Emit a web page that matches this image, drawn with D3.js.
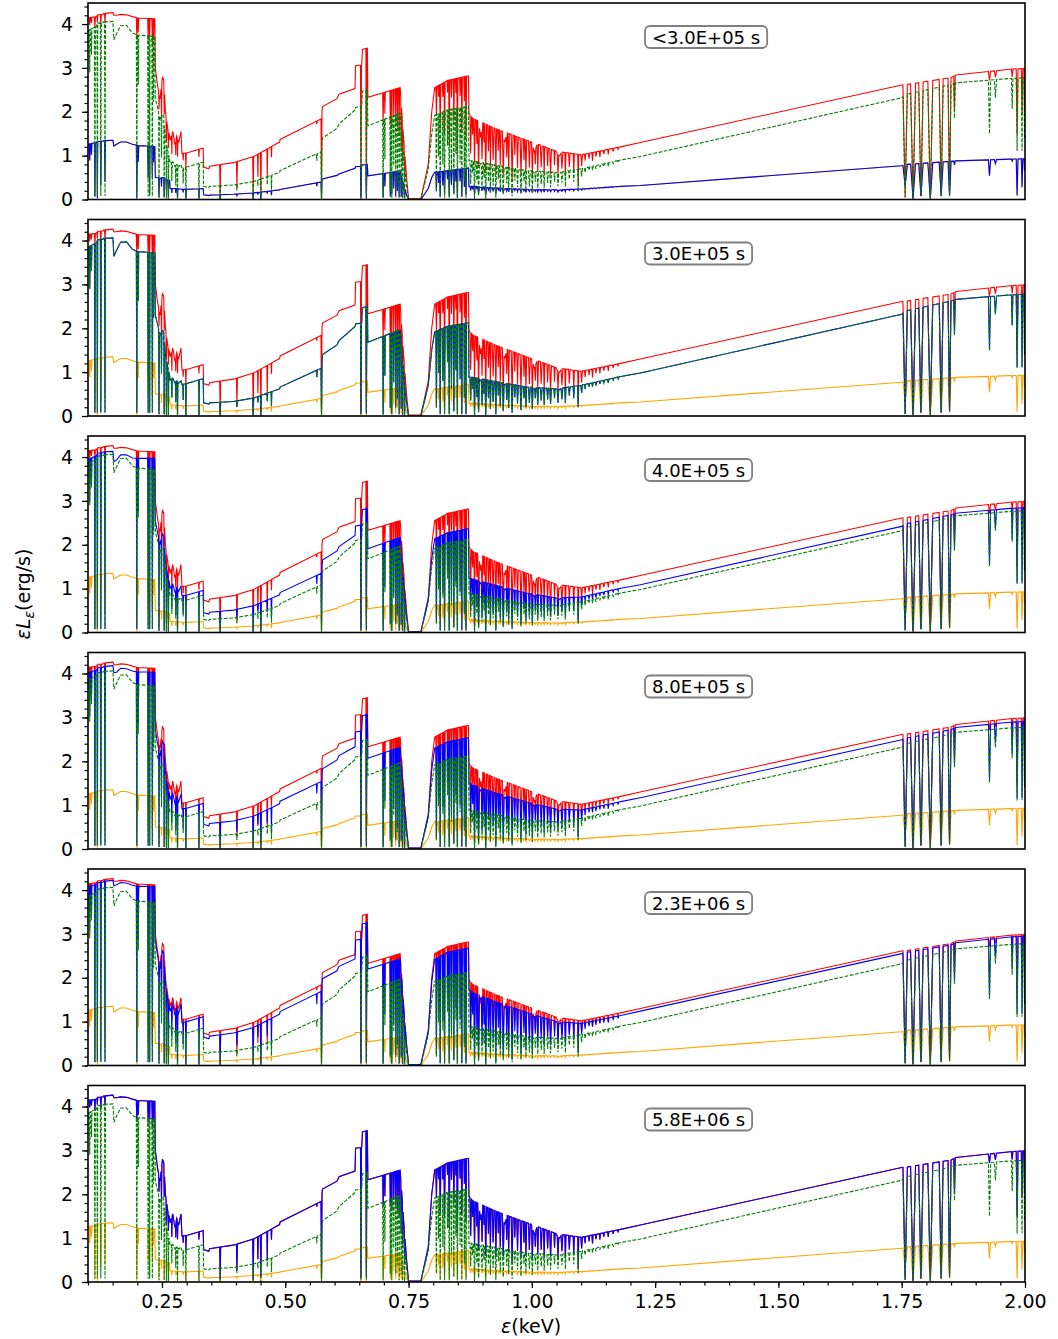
<!DOCTYPE html>
<html>
<head>
<meta charset="utf-8">
<script src="https://cdn.jsdelivr.net/npm/d3@7"></script>
<style>
body { margin: 0; background: #fff; }
text { font-family: "DejaVu Sans", sans-serif; }
</style>
</head>
<body>
<div id="chart"></div>
<script>
// continuum knots (keV) and the level of each spectrum at them
var knotE = [0.100, 0.1175, 0.1185, 0.1305, 0.1315, 0.1505, 0.1525, 0.158, 0.166, 0.178, 0.190, 0.200, 0.2355,
    0.2365, 0.241, 0.246, 0.251, 0.254, 0.257, 0.262, 0.2655, 0.2665, 0.272, 0.276, 0.280, 0.284, 0.2885, 0.2905,
    0.300, 0.3335, 0.3345, 0.345, 0.3465, 0.395, 0.436, 0.4885, 0.4895, 0.573, 0.5755, 0.605, 0.609, 0.6415,
    0.6425, 0.655, 0.6565, 0.6665, 0.6675, 0.733, 0.740, 0.746, 0.750, 0.775, 0.790, 0.797, 0.803, 0.830,
    0.8715, 0.8725, 0.880, 0.930, 0.990, 1.050, 1.100, 1.180, 1.220, 1.750, 1.760, 1.850, 1.860, 1.970, 2.000];
var redC = [4.14, 4.17, 4.21, 4.22, 4.24, 4.26, 4.20, 4.20, 4.22, 4.21, 4.17, 4.14, 4.12,
    3.00, 2.60, 2.30, 2.80, 2.70, 2.00, 1.60, 1.45, 1.35, 1.55, 1.25, 1.45, 1.30, 1.55, 1.05,
    1.06, 1.17, 0.74, 0.70, 0.76, 0.84, 0.98, 1.31, 1.37, 1.84, 2.12, 2.30, 2.40, 2.53,
    3.05, 3.07, 3.42, 3.45, 2.33, 2.55, 1.40, 0.50, 0.02, 0.02, 0.80, 2.00, 2.55, 2.72,
    2.82, 1.95, 1.85, 1.60, 1.35, 1.10, 1.02, 1.20, 1.30, 2.61, 2.62, 2.78, 2.84, 2.97, 2.99];
var greenC = [3.85, 3.95, 4.02, 4.03, 4.05, 4.06, 3.64, 3.78, 3.96, 3.97, 3.80, 3.75, 3.72,
    2.30, 2.10, 1.85, 1.95, 1.90, 1.40, 1.10, 0.92, 0.82, 0.86, 0.76, 0.80, 0.75, 0.80, 0.72,
    0.74, 0.85, 0.30, 0.27, 0.30, 0.33, 0.41, 0.62, 0.66, 1.09, 1.40, 1.62, 1.72, 2.04,
    2.10, 2.12, 2.47, 2.50, 1.68, 1.97, 1.00, 0.30, 0.01, 0.01, 0.70, 1.50, 1.92, 2.05,
    2.13, 0.88, 0.88, 0.78, 0.66, 0.62, 0.70, 0.90, 0.98, 2.32, 2.40, 2.62, 2.66, 2.76, 2.78];
var lowC = [1.26, 1.30, 1.32, 1.33, 1.34, 1.35, 1.22, 1.26, 1.31, 1.31, 1.26, 1.23, 1.21,
    0.50, 0.50, 0.48, 0.50, 0.50, 0.46, 0.44, 0.44, 0.25, 0.25, 0.25, 0.25, 0.24, 0.24, 0.23,
    0.23, 0.25, 0.11, 0.09, 0.10, 0.12, 0.15, 0.22, 0.23, 0.40, 0.47, 0.55, 0.58, 0.71,
    0.75, 0.76, 0.79, 0.80, 0.54, 0.65, 0.35, 0.10, 0.00, 0.00, 0.25, 0.50, 0.62, 0.66,
    0.72, 0.30, 0.30, 0.26, 0.23, 0.22, 0.24, 0.30, 0.32, 0.77, 0.80, 0.87, 0.88, 0.92, 0.93];
var blue3C = [3.95, 4.03, 4.09, 4.10, 4.12, 4.13, 3.90, 3.93, 4.05, 4.05, 3.98, 3.97, 3.97,
    2.55, 2.28, 2.01, 2.25, 2.18, 1.61, 1.28, 1.11, 1.01, 1.10, 0.93, 1.03, 0.94, 1.06, 0.84,
    0.85, 0.96, 0.45, 0.42, 0.46, 0.51, 0.61, 0.86, 0.91, 1.35, 1.65, 1.86, 1.96, 2.21,
    2.43, 2.45, 2.80, 2.83, 1.91, 2.17, 1.14, 0.37, 0.01, 0.01, 0.74, 1.68, 2.14, 2.28,
    2.37, 1.25, 1.22, 1.07, 0.90, 0.79, 0.81, 1.01, 1.09, 2.42, 2.48, 2.68, 2.72, 2.83, 2.85];
var blue4C = [4.02, 4.08, 4.13, 4.14, 4.16, 4.18, 4.02, 4.03, 4.12, 4.11, 4.06, 4.04, 4.03,
    2.72, 2.40, 2.12, 2.46, 2.38, 1.76, 1.40, 1.24, 1.14, 1.27, 1.05, 1.19, 1.08, 1.25, 0.92,
    0.93, 1.04, 0.56, 0.53, 0.58, 0.64, 0.75, 1.03, 1.09, 1.54, 1.83, 2.03, 2.13, 2.33,
    2.67, 2.69, 3.04, 3.07, 2.07, 2.32, 1.24, 0.42, 0.02, 0.02, 0.76, 1.80, 2.30, 2.45,
    2.54, 1.52, 1.46, 1.27, 1.07, 0.91, 0.89, 1.08, 1.17, 2.49, 2.53, 2.72, 2.77, 2.89, 2.91];
var blue5C = [4.08, 4.13, 4.17, 4.18, 4.20, 4.22, 4.10, 4.12, 4.17, 4.16, 4.11, 4.09, 4.08,
    2.86, 2.50, 2.21, 2.63, 2.54, 1.88, 1.50, 1.34, 1.24, 1.41, 1.15, 1.32, 1.19, 1.40, 0.98,
    1.00, 1.11, 0.65, 0.61, 0.67, 0.74, 0.87, 1.17, 1.23, 1.69, 1.98, 2.16, 2.26, 2.43,
    2.86, 2.88, 3.23, 3.26, 2.20, 2.43, 1.32, 0.46, 0.02, 0.02, 0.78, 1.90, 2.42, 2.59,
    2.68, 1.74, 1.66, 1.44, 1.21, 1.00, 0.96, 1.14, 1.24, 2.55, 2.58, 2.75, 2.80, 2.93, 2.95];

// absorption lines: energy, half width, depth in red, green, low spectrum
var lines = [
    [0.1035, 0.0012, 0.04, 0.25, 0.30], [0.1070, 0.0010, 0.03, 0.15, 0.20], [0.1140, 0.0010, 0.06, 0.98, 0.95],
    [0.1190, 0.0008, 0.04, 0.98, 0.98], [0.1260, 0.0010, 0.06, 0.98, 0.75], [0.1345, 0.0010, 0.05, 0.98, 0.70],
    [0.1990, 0.0010, 0.12, 0.98, 0.98], [0.2020, 0.0008, 0.08, 0.30, 0.30], [0.2220, 0.0010, 0.12, 0.98, 0.60],
    [0.2250, 0.0008, 0.10, 0.98, 0.90], [0.2305, 0.0010, 0.15, 0.98, 0.60], [0.2330, 0.0008, 0.10, 0.40, 0.30],
    [0.2440, 0.0008, 0.15, 0.98, 0.90], [0.2490, 0.0008, 0.30, 0.50, 0.40], [0.2545, 0.0008, 0.25, 0.98, 0.90],
    [0.2590, 0.0008, 0.30, 0.98, 0.50], [0.2630, 0.0008, 0.25, 0.98, 0.90], [0.2700, 0.0008, 0.30, 0.50, 0.40],
    [0.2780, 0.0008, 0.25, 0.60, 0.40], [0.2815, 0.0008, 0.30, 0.98, 0.90], [0.2930, 0.0008, 0.15, 0.50, 0.30],
    [0.2985, 0.0008, 0.35, 0.98, 0.90], [0.3250, 0.0008, 0.15, 0.98, 0.90], [0.3680, 0.0010, 0.92, 0.98, 0.95],
    [0.4020, 0.0010, 0.70, 0.40, 0.30], [0.4350, 0.0010, 0.95, 0.98, 0.90], [0.4445, 0.0008, 0.50, 0.30, 0.30],
    [0.4505, 0.0010, 0.90, 0.98, 0.95], [0.4635, 0.0008, 0.55, 0.35, 0.30], [0.4720, 0.0008, 0.20, 0.60, 0.50],
    [0.5640, 0.0010, 0.04, 0.15, 0.20], [0.5735, 0.0010, 0.97, 0.98, 0.98], [0.6535, 0.0010, 0.97, 0.98, 0.98],
    [0.6645, 0.0010, 0.97, 0.98, 0.98], [0.6985, 0.0010, 0.30, 0.98, 0.90], [0.7020, 0.0008, 0.20, 0.50, 0.50],
    [0.7130, 0.0008, 0.30, 0.90, 0.90], [0.7160, 0.0008, 0.35, 0.98, 0.80], [0.7200, 0.0008, 0.25, 0.60, 0.60],
    [0.7240, 0.0008, 0.30, 0.90, 0.90], [0.7275, 0.0008, 0.35, 0.80, 0.70], [0.7310, 0.0008, 0.40, 0.98, 0.90],
    [0.7350, 0.0008, 0.50, 0.90, 0.90], [0.7380, 0.0008, 0.50, 0.98, 0.90], [0.7420, 0.0008, 0.60, 0.98, 0.90],
    [0.8065, 0.0012, 0.25, 0.90, 0.70], [0.8110, 0.0010, 0.10, 0.50, 0.40], [0.8142, 0.0012, 0.40, 0.98, 0.90],
    [0.8195, 0.0010, 0.12, 0.60, 0.50], [0.8230, 0.0012, 0.45, 0.98, 0.85], [0.8290, 0.0010, 0.10, 0.40, 0.30],
    [0.8325, 0.0012, 0.55, 0.98, 0.90], [0.8370, 0.0010, 0.15, 0.70, 0.50], [0.8418, 0.0012, 0.35, 0.95, 0.80],
    [0.8460, 0.0010, 0.12, 0.50, 0.40], [0.8490, 0.0012, 0.60, 0.98, 0.95], [0.8545, 0.0010, 0.15, 0.60, 0.40],
    [0.8580, 0.0012, 0.45, 0.98, 0.90], [0.8632, 0.0010, 0.20, 0.80, 0.60], [0.8665, 0.0012, 0.50, 0.98, 0.85],
    [0.8760, 0.0015, 0.45, 0.60, 0.30], [0.8800, 0.0012, 0.20, 0.30, 0.15], [0.8838, 0.0015, 0.55, 0.98, 0.60],
    [0.8885, 0.0012, 0.30, 0.50, 0.20], [0.8920, 0.0018, 0.60, 0.90, 0.50], [0.8990, 0.0015, 0.45, 0.70, 0.30],
    [0.9030, 0.0012, 0.25, 0.40, 0.15], [0.9065, 0.0018, 0.65, 0.98, 0.60], [0.9120, 0.0015, 0.35, 0.50, 0.20],
    [0.9160, 0.0012, 0.55, 0.80, 0.40], [0.9215, 0.0018, 0.45, 0.60, 0.25], [0.9270, 0.0015, 0.65, 0.95, 0.50],
    [0.9320, 0.0012, 0.30, 0.40, 0.15], [0.9360, 0.0015, 0.50, 0.70, 0.30], [0.9420, 0.0018, 0.60, 0.85, 0.40],
    [0.9490, 0.0012, 0.35, 0.50, 0.20], [0.9530, 0.0015, 0.55, 0.75, 0.30], [0.9600, 0.0018, 0.70, 0.90, 0.40],
    [0.9655, 0.0012, 0.30, 0.40, 0.15], [0.9710, 0.0015, 0.50, 0.60, 0.25], [0.9780, 0.0018, 0.60, 0.80, 0.30],
    [0.9840, 0.0012, 0.35, 0.40, 0.15], [0.9880, 0.0015, 0.55, 0.70, 0.30], [0.9950, 0.0018, 0.45, 0.55, 0.20],
    [1.0010, 0.0015, 0.60, 0.75, 0.30], [1.0070, 0.0012, 0.30, 0.35, 0.15], [1.0120, 0.0015, 0.50, 0.60, 0.25],
    [1.0190, 0.0018, 0.40, 0.45, 0.20], [1.0250, 0.0012, 0.55, 0.60, 0.25], [1.0320, 0.0015, 0.35, 0.40, 0.15],
    [1.0380, 0.0018, 0.50, 0.55, 0.20], [1.0460, 0.0012, 0.30, 0.35, 0.15], [1.0530, 0.0015, 0.45, 0.50, 0.20],
    [1.0610, 0.0018, 0.35, 0.40, 0.15], [1.0680, 0.0012, 0.50, 0.55, 0.20], [1.0760, 0.0015, 0.30, 0.30, 0.10],
    [1.0850, 0.0012, 0.40, 0.40, 0.15], [1.0940, 0.0010, 0.70, 0.70, 0.20], [1.1010, 0.0015, 0.25, 0.25, 0.10],
    [1.1080, 0.0012, 0.15, 0.15, 0.05], [1.1160, 0.0015, 0.12, 0.10, 0.05], [1.1230, 0.0012, 0.18, 0.12, 0.05],
    [1.1300, 0.0015, 0.10, 0.10, 0.04], [1.1380, 0.0012, 0.12, 0.08, 0.03], [1.1460, 0.0015, 0.08, 0.08, 0.03],
    [1.1550, 0.0012, 0.10, 0.10, 0.03], [1.1650, 0.0015, 0.06, 0.05, 0.02], [1.1750, 0.0012, 0.05, 0.05, 0.02],
    [0.8960, 0.0040, 0.20, 0.05, 0.05], [0.9450, 0.0050, 0.15, 0.05, 0.05], [1.0050, 0.0060, 0.15, 0.05, 0.05],
    [1.0550, 0.0060, 0.10, 0.05, 0.05],
    [1.7570, 0.0045, 0.98, 0.98, 0.60], [1.7730, 0.0050, 0.99, 0.99, 0.98], [1.7890, 0.0045, 0.97, 0.97, 0.90],
    [1.8080, 0.0050, 0.99, 0.99, 0.98], [1.8300, 0.0040, 0.97, 0.97, 0.90], [1.8470, 0.0030, 0.96, 0.96, 0.90],
    [1.8570, 0.0015, 0.28, 0.30, 0.10], [1.9280, 0.0022, 0.07, 0.45, 0.40], [1.9400, 0.0022, 0.05, 0.15, 0.10],
    [1.9740, 0.0015, 0.06, 0.25, 0.05], [1.9840, 0.0018, 0.50, 0.60, 0.90], [1.9940, 0.0015, 0.35, 0.60, 0.70],
    [1.9990, 0.0010, 0.30, 0.50, 0.30]
];

var panelLabels = ["<3.0E+05 s", "3.0E+05 s", "4.0E+05 s", "8.0E+05 s", "2.3E+06 s", "5.8E+06 s"];
var xTicks = [0.25, 0.50, 0.75, 1.00, 1.25, 1.50, 1.75, 2.00];
var yTicks = [0, 1, 2, 3, 4];

var width = 1058, height = 1339,
    left = 88, right = 1025,
    panelTop = 3, panelH = 196.5, panelStep = 216.5;

var svg = d3.select("#chart").append("svg")
    .attr("width", width)
    .attr("height", height);

var x = d3.scaleLinear().domain([0.1, 2.0]).range([left, right]);
var y = d3.scaleLinear().domain([0, 4.48]).range([panelH, 0]);

var grid = knotE.slice();
lines.forEach(function(l) { grid.push(l[0] - l[1], l[0], l[0] + l[1]); });
grid = Array.from(new Set(grid.filter(function(e) { return e >= 0.1 && e <= 2.0; }))).sort(d3.ascending);

function spectrum(cont, col) {
    var level = d3.scaleLinear().domain(knotE).range(cont).clamp(true);
    return grid.map(function(e) {
        var f = 1;
        lines.forEach(function(l) {
            var t = 1 - Math.abs(e - l[0]) / l[1];
            if (t > 0) f *= 1 - l[col] * t;
        });
        return [e, level(e) * f];
    });
}

var red = spectrum(redC, 2),
    green = spectrum(greenC, 3),
    low = spectrum(lowC, 4),
    blues = [low, green, spectrum(blue3C, 3), spectrum(blue4C, 3), spectrum(blue5C, 3), red];

var line = d3.line()
    .x(function(d) { return x(d[0]); })
    .y(function(d) { return y(d[1]); });

svg.append("defs").append("clipPath").attr("id", "clip")
    .append("rect")
    .attr("x", left).attr("y", 0)
    .attr("width", right - left).attr("height", panelH);

panelLabels.forEach(function(label, i) {
    var g = svg.append("g").attr("transform", "translate(0," + (panelTop + i * panelStep) + ")");
    var plot = g.append("g").attr("clip-path", "url(#clip)");

    plot.append("path").datum(low)
        .attr("d", line).attr("fill", "none").attr("stroke", "#ffa500").attr("stroke-width", 1.1);
    plot.append("path").datum(red)
        .attr("d", line).attr("fill", "none").attr("stroke", "#ff0000").attr("stroke-width", 1.1);
    plot.append("path").datum(blues[i])
        .attr("d", line).attr("fill", "none").attr("stroke", "#0000ff").attr("stroke-width", 1.1);
    plot.append("path").datum(green)
        .attr("d", line).attr("fill", "none").attr("stroke", "#008000").attr("stroke-width", 1.1)
        .attr("stroke-dasharray", "3.7,1.6");

    var yMinor = g.append("g").attr("transform", "translate(" + left + ",0)")
        .call(d3.axisLeft(y).tickValues(d3.range(0, 4.41, 0.2)).tickSize(3.5).tickFormat(""));
    var yAxis = g.append("g").attr("transform", "translate(" + left + ",0)")
        .call(d3.axisLeft(y).tickValues(yTicks).tickSize(6).tickPadding(9).tickFormat(d3.format("d")));
    [yMinor, yAxis].forEach(function(a) {
        a.select(".domain").remove();
        a.selectAll("line").attr("stroke", "#000").attr("stroke-width", 1.2);
        a.selectAll("text").style("font-size", "19px").attr("fill", "#000");
    });

    if (i == panelLabels.length - 1) {
        var xMinor = g.append("g").attr("transform", "translate(0," + panelH + ")")
            .call(d3.axisBottom(x).tickValues(d3.range(0.1, 2.001, 0.05)).tickSize(3.5).tickFormat(""));
        var xAxis = g.append("g").attr("transform", "translate(0," + panelH + ")")
            .call(d3.axisBottom(x).tickValues(xTicks).tickSize(6).tickPadding(7).tickFormat(d3.format(".2f")));
        [xMinor, xAxis].forEach(function(a) {
            a.select(".domain").remove();
            a.selectAll("line").attr("stroke", "#000").attr("stroke-width", 1.2);
            a.selectAll("text").style("font-size", "19px").attr("fill", "#000");
        });
    }

    g.append("rect")
        .attr("x", left).attr("y", 0)
        .attr("width", right - left).attr("height", panelH)
        .attr("fill", "none").attr("stroke", "#000").attr("stroke-width", 1.6);

    var box = g.append("g");
    var t = box.append("text")
        .attr("x", 652).attr("y", 40.5)
        .style("font-size", "18px")
        .text(label);
    var bb = t.node().getBBox();
    box.insert("rect", "text")
        .attr("x", bb.x - 7).attr("y", 23)
        .attr("width", bb.width + 14).attr("height", 22)
        .attr("rx", 5).attr("ry", 5)
        .attr("fill", "#fff").attr("fill-opacity", 0.8)
        .attr("stroke", "#808080").attr("stroke-width", 1.8);
});

var ylab = svg.append("text")
    .attr("transform", "translate(30,594) rotate(-90)")
    .attr("text-anchor", "middle")
    .style("font-size", "19px");
ylab.append("tspan").style("font-style", "italic").text("\u03b5L");
ylab.append("tspan").style("font-style", "italic").style("font-size", "14px").attr("dy", 4).text("\u03b5");
ylab.append("tspan").attr("dy", -4).text("(erg/s)");

var xlab = svg.append("text")
    .attr("x", 531).attr("y", 1333)
    .attr("text-anchor", "middle")
    .style("font-size", "19px");
xlab.append("tspan").style("font-style", "italic").text("\u03b5");
xlab.append("tspan").text("(keV)");
</script>
</body>
</html>
